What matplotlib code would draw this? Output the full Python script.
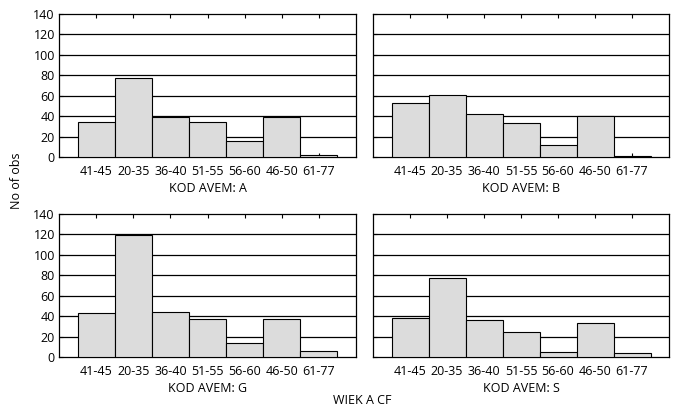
import matplotlib
matplotlib.use("Agg")
import matplotlib.pyplot as plt
import numpy as np

plt.rcParams['font.family'] = ['Open Sans', 'DejaVu Sans']

categories = ["41-45", "20-35", "36-40", "51-55", "56-60", "46-50", "61-77"]
panels = ["A", "B", "G", "S"]
values = {
    "A": [34, 77, 39, 34, 16, 39, 2],
    "B": [53, 61, 42, 33, 12, 40, 1],
    "G": [43, 119, 44, 37, 14, 37, 6],
    "S": [38, 77, 36, 24, 5, 33, 4],
}
yticks = [0, 20, 40, 60, 80, 100, 120, 140]

W, H = 675, 408
fig = plt.figure(figsize=(W / 100, H / 100), dpi=100)

boxes = {
    "A": (59, 14, 356, 157),
    "B": (373, 14, 669, 157),
    "G": (59, 214, 356, 357),
    "S": (373, 214, 669, 357),
}

FS = 9
for key in panels:
    x0, y0, x1, y1 = boxes[key]
    ax = fig.add_axes([x0 / W, 1 - y1 / H, (x1 - x0) / W, (y1 - y0) / H])
    x = np.arange(len(categories))
    ax.bar(x, values[key], width=1.0, color="#dcdcdc", edgecolor="black",
           linewidth=0.8, zorder=3)
    ax.set_xlim(-1.0, 7.0)
    ax.set_ylim(0, 140)
    ax.set_yticks(yticks)
    for yv in yticks[1:-1]:
        ax.axhline(yv, color="black", linewidth=0.9, zorder=1)
    ax.set_xticks(x)
    ax.set_xticklabels(categories, fontsize=FS)
    ax.tick_params(axis="x", direction="in", top=True, bottom=True, length=3,
                   width=0.8, pad=6)
    ax.tick_params(axis="y", direction="in", left=True, right=False, length=3,
                   width=0.8, labelsize=FS, pad=3)
    if key in ("B", "S"):
        ax.set_yticklabels([])
    for sp in ax.spines.values():
        sp.set_linewidth(0.9)
    ax.set_xlabel(f"KOD AVEM: {key}", fontsize=FS, labelpad=3)

fig.text(17 / W, 1 - 181 / H, "No of obs", rotation=90, ha="center", va="center",
         fontsize=FS)
fig.text(362 / W, 1 - 400 / H, "WIEK A CF", ha="center", va="center", fontsize=FS)

fig.savefig("out.png", dpi=100)
